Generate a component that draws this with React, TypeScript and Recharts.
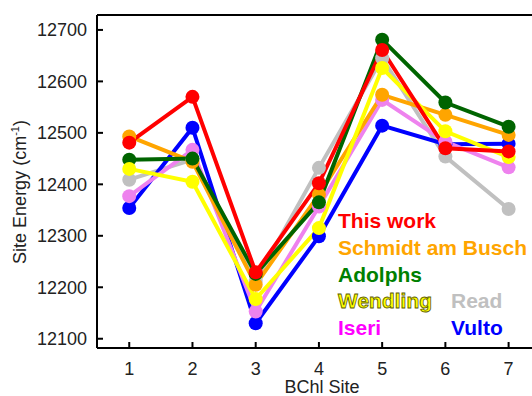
import React from 'react';
import { LineChart, Line, XAxis, YAxis } from 'recharts';

const sites = [1, 2, 3, 4, 5, 6, 7];
const thisWork = [12481, 12570, 12229, 12402, 12661, 12470, 12464];
const schmidtAmBusch = [12493, 12444, 12205, 12380, 12574, 12535, 12496];
const adolphs = [12448, 12450, 12226, 12365, 12681, 12559, 12512];
const wendling = [12430, 12405, 12177, 12315, 12626, 12503, 12453];
const read = [12409, 12448, 12212, 12432, 12645, 12454, 12352];
const iseri = [12377, 12467, 12153, 12357, 12564, 12483, 12433];
const vulto = [12354, 12510, 12130, 12299, 12514, 12478, 12479];

const yTicks = [12100, 12200, 12300, 12400, 12500, 12600, 12700];

// drawing order: first one ends up at the back
const series = [
    { key: 'read', name: 'Read', color: '#c0c0c0', values: read },
    { key: 'vulto', name: 'Vulto', color: '#0000ff', values: vulto },
    { key: 'iseri', name: 'Iseri', color: '#ee82ee', values: iseri },
    { key: 'schmidt', name: 'Schmidt am Busch', color: '#ffa500', values: schmidtAmBusch },
    { key: 'adolphs', name: 'Adolphs', color: '#006400', values: adolphs },
    { key: 'wendling', name: 'Wendling', color: '#ffff00', values: wendling },
    { key: 'thisWork', name: 'This work', color: '#ff0000', values: thisWork },
];

const data = sites.map((site, i) => {
    const row: Record<string, number> = { site };
    series.forEach((s) => {
        row[s.key] = s.values[i];
    });
    return row;
});

const tickStyle = { fill: '#222', fontSize: 18, fontFamily: 'Liberation Sans, Arial, sans-serif' };
const legendFont: React.CSSProperties = {
    position: 'absolute',
    fontFamily: 'Liberation Sans, Arial, sans-serif',
    fontWeight: 'bold',
    fontSize: 21,
    lineHeight: '26.67px',
    whiteSpace: 'nowrap',
};

const legendItems = [
    { label: 'This work', color: '#ff0000', x: 338, row: 0 },
    { label: 'Schmidt am Busch', color: '#ffa500', x: 338, row: 1 },
    { label: 'Adolphs', color: '#008000', x: 338, row: 2 },
    { label: 'Wendling', color: '#ffff00', x: 338, row: 3, outline: true },
    { label: 'Read', color: '#c0c0c0', x: 451, row: 3 },
    { label: 'Iseri', color: '#ff00ff', x: 338, row: 4 },
    { label: 'Vulto', color: '#0000ff', x: 451, row: 4 },
];

const App: React.FC = () => {
    return (
        <div style={{ position: 'absolute', left: 0, top: 0, width: 532, height: 396, background: '#fff', overflow: 'hidden' }}>
            <LineChart width={532} height={396} data={data} margin={{ top: 14, right: 0, bottom: 0, left: 0 }}>
                <XAxis
                    dataKey="site"
                    type="number"
                    domain={[0.49, 7.37]}
                    allowDataOverflow
                    ticks={sites}
                    height={48}
                    tickSize={-6}
                    tickMargin={20}
                    axisLine={{ stroke: '#000', strokeWidth: 2 }}
                    tickLine={{ stroke: '#000', strokeWidth: 2 }}
                    tick={tickStyle}
                />
                <XAxis
                    xAxisId="top"
                    orientation="top"
                    dataKey="site"
                    type="number"
                    domain={[0.49, 7.37]}
                    allowDataOverflow
                    ticks={sites}
                    height={1}
                    tickSize={-6}
                    tick={false}
                    axisLine={{ stroke: '#000', strokeWidth: 2 }}
                    tickLine={{ stroke: '#000', strokeWidth: 2 }}
                />
                <YAxis
                    type="number"
                    domain={[12082, 12729]}
                    allowDataOverflow
                    ticks={yTicks}
                    width={97}
                    tickSize={-6}
                    tickMargin={16}
                    axisLine={{ stroke: '#000', strokeWidth: 2 }}
                    tickLine={{ stroke: '#000', strokeWidth: 2 }}
                    tick={tickStyle}
                />
                {series.map((s) => (
                    <Line
                        key={s.key}
                        dataKey={s.key}
                        stroke={s.color}
                        strokeWidth={4}
                        dot={{ r: 7, fill: s.color, stroke: 'none' }}
                        activeDot={false}
                        isAnimationActive={false}
                    />
                ))}
            </LineChart>

            {/* axis titles */}
            <div
                style={{
                    position: 'absolute',
                    left: 20,
                    top: 192,
                    transform: 'translate(-50%, -50%) rotate(-90deg)',
                    whiteSpace: 'nowrap',
                    fontFamily: 'Liberation Sans, Arial, sans-serif',
                    fontSize: 18,
                    color: '#222',
                    lineHeight: '20px',
                }}
            >
                Site Energy (cm<sup style={{ fontSize: 11, lineHeight: 0 }}>-1</sup>)
            </div>
            <div
                style={{
                    position: 'absolute',
                    left: 322,
                    top: 387,
                    transform: 'translate(-50%, -50%)',
                    whiteSpace: 'nowrap',
                    fontFamily: 'Liberation Sans, Arial, sans-serif',
                    fontSize: 18,
                    color: '#222',
                    lineHeight: '14px',
                }}
            >
                BChl Site
            </div>

            {legendItems.map((item) => (
                <div
                    key={item.label}
                    style={{
                        ...legendFont,
                        left: item.x,
                        top: 208.3 + item.row * 26.67,
                        color: item.color,
                        WebkitTextStroke: item.outline ? '0.8px #5a5a00' : undefined,
                    }}
                >
                    {item.label}
                </div>
            ))}
        </div>
    );
};

export default App;
